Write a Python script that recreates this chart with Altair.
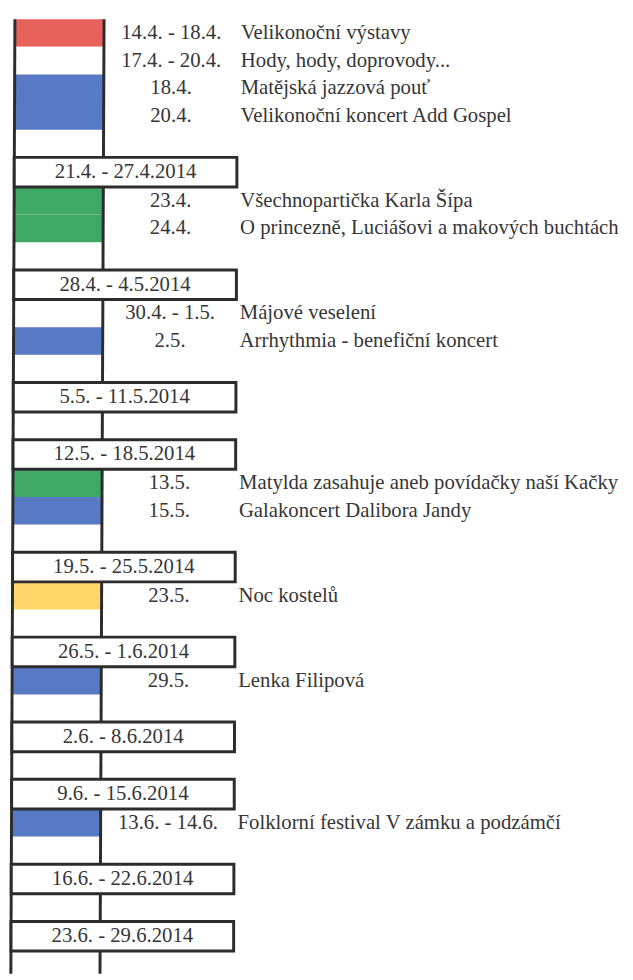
import altair as alt
import pandas as pd

# ---- data -------------------------------------------------------------
week_labels = ["", "21.4. - 27.4.2014", "28.4. - 4.5.2014", "5.5. - 11.5.2014",
               "12.5. - 18.5.2014", "19.5. - 25.5.2014", "26.5. - 1.6.2014",
               "2.6. - 8.6.2014", "9.6. - 15.6.2014", "16.6. - 22.6.2014",
               "23.6. - 29.6.2014"]

event_week = [0, 0, 0, 0, 1, 1, 2, 2, 4, 4, 5, 6, 8]
event_dates = ["14.4. - 18.4.", "17.4. - 20.4.", "18.4.", "20.4.", "23.4.", "24.4.",
               "30.4. - 1.5.", "2.5.", "13.5.", "15.5.", "23.5.", "29.5.",
               "13.6. - 14.6."]
event_names = ["Velikonoční výstavy", "Hody, hody, doprovody...",
               "Matějská jazzová pouť", "Velikonoční koncert Add Gospel",
               "Všechnopartička Karla Šípa",
               "O princezně, Luciášovi a makových buchtách",
               "Májové veselení", "Arrhythmia - benefiční koncert",
               "Matylda zasahuje aneb povídačky naší Kačky",
               "Galakoncert Dalibora Jandy", "Noc kostelů", "Lenka Filipová",
               "Folklorní festival V zámku a podzámčí"]
event_types = ["výstava", "ostatní", "koncert", "koncert", "pro děti", "pro děti",
               "ostatní", "koncert", "pro děti", "koncert", "církev", "koncert",
               "koncert"]

type_names = ["výstava", "koncert", "pro děti", "církev", "ostatní"]
type_colors = ["#e8625c", "#5879c4", "#3ea864", "#fed66a", "#ffffff"]

# ---- layout (computed from the structure above) -----------------------
TOP, ROW, BOX = 13, 28, 30
OUTER_X, INNER_X, BOX_R = 15, 105.3, 240.5
DATE_X, NAME_X = 173.5, 244
SKEW = -4.0 / 944  # slight tilt of the scanned page


def sx(x, yy):
    return x + SKEW * (yy - TOP)


rows, boxes = [], []
y = TOP
for w, label in enumerate(week_labels):
    if label:
        ym = y + BOX / 2
        boxes.append(dict(label=label, y0=y, y1=y + BOX, yc=ym,
                          x0=sx(OUTER_X, ym), x1=sx(BOX_R, ym),
                          xc=sx((OUTER_X + BOX_R) / 2, ym)))
        y += BOX
    for i, wk in enumerate(event_week):
        if wk == w:
            ym = y + ROW / 2
            rows.append(dict(date=event_dates[i], name=event_names[i],
                             type=event_types[i], y0=y, y1=y + ROW, yc=ym,
                             x0=sx(OUTER_X, ym), x1=sx(INNER_X, ym),
                             xd=sx(DATE_X, ym), xn=sx(NAME_X, ym)))
            y += ROW
    y += ROW
bottom = y

rows_df = pd.DataFrame(rows)
boxes_df = pd.DataFrame(boxes)
lines_df = pd.DataFrame(dict(
    xa=[sx(OUTER_X, TOP), sx(INNER_X, TOP)],
    xb=[sx(OUTER_X, bottom), sx(INNER_X, bottom)],
    ya=[TOP, TOP], yb=[bottom, bottom]))

xs = alt.Scale(domain=[8, 633], nice=False, zero=False)
ys = alt.Scale(domain=[8, 980], nice=False, zero=False, reverse=True)

LINE = "#2c2c2c"
TEXT = "#363636"
FONT = "Liberation Serif"
FS = 21

bands = alt.Chart(rows_df).mark_rect(clip=True).encode(
    x=alt.X("x0:Q", scale=xs, axis=None),
    x2="x1:Q",
    y=alt.Y("y0:Q", scale=ys, axis=None),
    y2="y1:Q",
    color=alt.Color("type:N", scale=alt.Scale(domain=type_names, range=type_colors),
                    legend=None),
)

vlines = alt.Chart(lines_df).mark_rule(color=LINE, strokeWidth=3, clip=True).encode(
    x=alt.X("xa:Q", scale=xs, axis=None),
    x2="xb:Q",
    y=alt.Y("ya:Q", scale=ys, axis=None),
    y2="yb:Q",
)

box_rects = alt.Chart(boxes_df).mark_rect(fill="white", stroke=LINE, strokeWidth=3,
                                          clip=True).encode(
    x=alt.X("x0:Q", scale=xs, axis=None),
    x2="x1:Q",
    y=alt.Y("y0:Q", scale=ys, axis=None),
    y2="y1:Q",
)

box_text = alt.Chart(boxes_df).mark_text(font=FONT, fontSize=FS, color=TEXT,
                                         align="center", baseline="middle").encode(
    x=alt.X("xc:Q", scale=xs, axis=None),
    y=alt.Y("yc:Q", scale=ys, axis=None),
    text="label:N",
)

date_text = alt.Chart(rows_df).mark_text(font=FONT, fontSize=FS, color=TEXT,
                                         align="center", baseline="middle").encode(
    x=alt.X("xd:Q", scale=xs, axis=None),
    y=alt.Y("yc:Q", scale=ys, axis=None),
    text="date:N",
)

name_text = alt.Chart(rows_df).mark_text(font=FONT, fontSize=FS, color=TEXT,
                                         align="left", baseline="middle").encode(
    x=alt.X("xn:Q", scale=xs, axis=None),
    y=alt.Y("yc:Q", scale=ys, axis=None),
    text="name:N",
)

chart = alt.layer(bands, vlines, box_rects, box_text, date_text, name_text).properties(
    width=625, height=972, autosize="none", padding=0, background="white"
).configure_view(stroke=None)

chart.save("out.html", embed_options={"renderer": "svg", "actions": False})
